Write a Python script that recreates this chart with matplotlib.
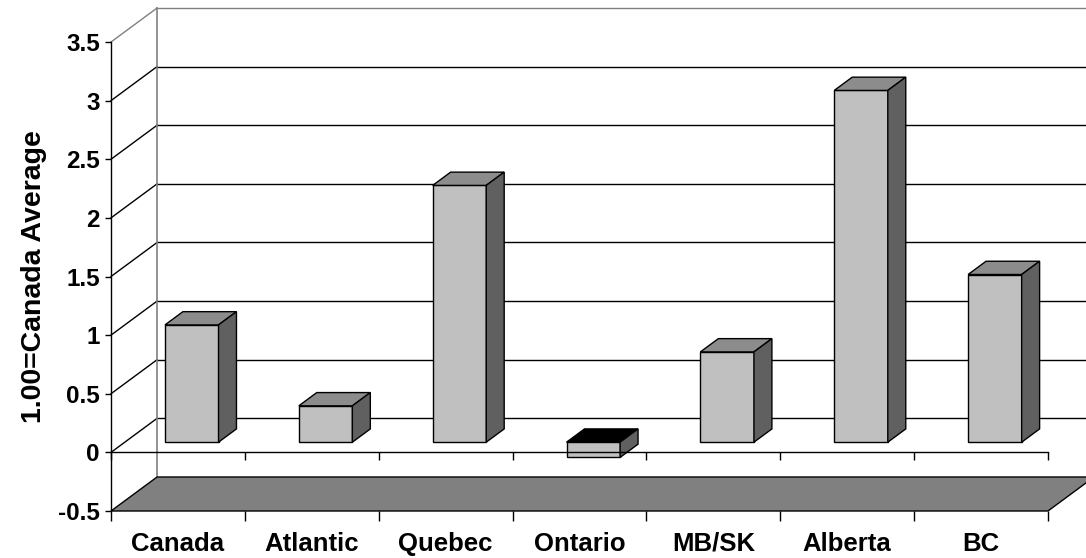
import numpy as np
import matplotlib
matplotlib.use('Agg')
import matplotlib.pyplot as plt

# regions and their index value (1.00 = Canada average)
regions = ['Canada', 'Atlantic', 'Quebec', 'Ontario', 'MB/SK', 'Alberta', 'BC']
values = [1.00, 0.31, 2.19, -0.13, 0.77, 3.00, 1.43]
yticks = [-0.5, 0, 0.5, 1, 1.5, 2, 2.5, 3, 3.5]

plt.rcParams['font.family'] = ['Liberation Sans', 'DejaVu Sans']
plt.rcParams['font.weight'] = 'bold'

fig = plt.figure(figsize=(10.86, 5.58), dpi=100)
ax = fig.add_axes([111 / 1086, 1 - 511 / 558, 937 / 1086, 469 / 558])
ax.set_xlim(0, len(regions))
ax.set_ylim(-0.5, 3.5)

# depth offset of the back wall, in data units
DX, DY = 0.344, 0.29
d0, d1 = 0.30, 0.69   # front and back of the bars
bw = 0.40
ymin, ymax = -0.5, 3.5
n = len(regions)

# back wall and side wall gridlines
for y in yticks[1:]:
    c = '#808080' if y == ymax else 'black'
    ax.plot([DX, n + DX], [y + DY, y + DY], color=c, lw=1, clip_on=False, zorder=1)
    ax.plot([0, DX], [y, y + DY], color=c, lw=1, clip_on=False, zorder=1)
ax.plot([DX, DX], [ymin + DY, ymax + DY], color='#808080', lw=1.2, clip_on=False, zorder=1)

# floor
ax.fill([0, n, n + DX, DX], [ymin, ymin, ymin + DY, ymin + DY],
        facecolor='#808080', edgecolor='black', lw=1, clip_on=False, zorder=2)

# bars: front face through ax.bar, top and side as polygons
x = np.arange(n) + 0.5 + d0 * DX
base = d0 * DY
ax.bar(x, values, width=bw, bottom=base, color='#c0c0c0', edgecolor='black',
       lw=1, zorder=4, clip_on=False)
ddx, ddy = (d1 - d0) * DX, (d1 - d0) * DY
for xi, v in zip(x, values):
    xl, xr = xi - bw / 2, xi + bw / 2
    top = base + max(v, 0)
    bot = base + min(v, 0)
    top_col = '#8c8c8c' if v >= 0 else 'black'
    ax.fill([xl, xr, xr + ddx, xl + ddx], [top, top, top + ddy, top + ddy],
            facecolor=top_col, edgecolor='black', lw=1, zorder=4, clip_on=False)
    ax.fill([xr, xr + ddx, xr + ddx, xr], [bot, bot + ddy, top + ddy, top],
            facecolor='#606060', edgecolor='black', lw=1, zorder=4, clip_on=False)

# zero line with its tick marks
ax.plot([0, n], [0, 0], color='black', lw=1, zorder=5, clip_on=False)
ax.vlines(np.arange(n + 1), -0.065, 0, color='black', lw=1, zorder=5, clip_on=False)

# axes
for s in ['top', 'right', 'bottom']:
    ax.spines[s].set_visible(False)
ax.spines['left'].set_linewidth(1)
ax.set_facecolor('none')
ax.set_yticks(yticks)
ax.set_yticklabels([f'{t:g}' for t in yticks], fontsize=17.5, fontweight='bold')
ax.tick_params(axis='y', length=4, width=1, pad=4)
ax.set_xticks(np.arange(n + 1))
ax.set_xticklabels([])
ax.tick_params(axis='x', which='major', length=7, width=1, direction='out')

# category names on a common baseline below the floor
for i, name in enumerate(regions):
    ax.text(i + 0.5, -0.085, name, transform=ax.get_xaxis_transform(),
            ha='center', va='baseline', fontsize=18.5, fontweight='bold')

ax.set_ylabel('1.00=Canada Average', fontsize=20.5, fontweight='bold', labelpad=8)

fig.savefig('out.png', dpi=100)
